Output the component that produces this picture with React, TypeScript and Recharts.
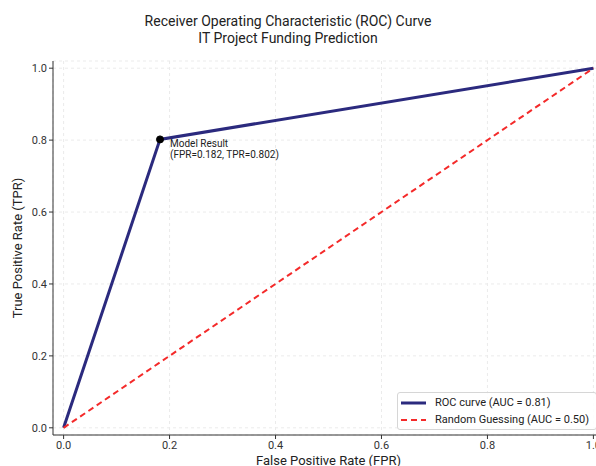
import { LineChart, Line, XAxis, YAxis, CartesianGrid, ReferenceDot } from 'recharts';

// ROC points
const rocData = [
  { fpr: 0, tpr: 0 },
  { fpr: 0.182, tpr: 0.802 },
  { fpr: 1, tpr: 1 },
];
const randomData = [
  { fpr: 0, tpr: 0 },
  { fpr: 1, tpr: 1 },
];
const modelPoint = { fpr: 0.182, tpr: 0.802 };
const ticks = [0, 0.2, 0.4, 0.6, 0.8, 1.0];
const titleLines = ['Receiver Operating Characteristic (ROC) Curve', 'IT Project Funding Prediction'];
const legendItems = [
  { label: 'ROC curve (AUC = 0.81)', color: '#2b2a7e', dash: '' },
  { label: 'Random Guessing (AUC = 0.50)', color: '#f42a2a', dash: '6 4' },
];

const FONT = 'Roboto, "Open Sans", sans-serif';

function LegendBox() {
  return (
    <div
      style={{
        position: 'absolute',
        left: 397,
        top: 392,
        boxSizing: 'border-box',
        width: 200,
        border: '1px solid #d6d6d6',
        borderRadius: 3,
        background: 'rgba(255,255,255,0.85)',
        padding: '1px 4px 1px 2px',
        fontFamily: FONT,
        fontSize: 11,
        color: '#222',
        whiteSpace: 'nowrap',
      }}
    >
      {legendItems.map((it) => (
        <div key={it.label} style={{ display: 'flex', alignItems: 'center', height: 17 }}>
          <svg width={27} height={8} style={{ marginRight: 8 }}>
            <line x1={1} y1={4} x2={26} y2={4} stroke={it.color} strokeWidth={it.dash ? 2 : 3} strokeDasharray={it.dash} />
          </svg>
          <span>{it.label}</span>
        </div>
      ))}
    </div>
  );
}

export default function App() {
  return (
    <div style={{ position: 'absolute', left: 0, top: 0, width: 596, height: 466, overflow: 'hidden', background: '#fff' }}>
      <div
        style={{
          position: 'absolute',
          left: 0,
          top: 13,
          width: 576,
          textAlign: 'center',
          fontFamily: FONT,
          fontSize: 14,
          lineHeight: '17px',
          color: '#222',
        }}
      >
        {titleLines.map((t) => (
          <div key={t}>{t}</div>
        ))}
      </div>
      <LineChart width={612} height={466} margin={{ top: 61, right: 8, left: 0, bottom: 0 }}>
        <CartesianGrid stroke="#ebebeb" strokeDasharray="3 3" />
        <XAxis
          dataKey="fpr"
          type="number"
          domain={[-0.02, 1.02]}
          ticks={ticks}
          allowDataOverflow
          height={31}
          stroke="#333"
          tickSize={4}
          tick={{ fill: '#333', fontSize: 11, fontFamily: FONT }}
          tickFormatter={(v: number) => v.toFixed(1)}
          label={({ viewBox }: any) => (
            <text x={viewBox.x + viewBox.width / 2} y={viewBox.y + 30} textAnchor="middle" fontSize={13} fontFamily={FONT} fill="#222">
              False Positive Rate (FPR)
            </text>
          )}
        />
        <XAxis xAxisId="top" orientation="top" type="number" domain={[-0.02, 1.02]} ticks={ticks} height={0} tick={false} tickLine={false} stroke="#aaa" />
        <YAxis
          type="number"
          domain={[-0.02, 1.02]}
          ticks={ticks}
          allowDataOverflow
          width={53}
          stroke="#333"
          tickSize={4}
          tick={{ fill: '#333', fontSize: 11, fontFamily: FONT }}
          tickFormatter={(v: number) => v.toFixed(1)}
          label={({ viewBox }: any) => {
            const cy = viewBox.y + viewBox.height / 2;
            return (
              <text x={17} y={cy} transform={`rotate(-90 17 ${cy})`} textAnchor="middle" dominantBaseline="central" fontSize={13} fontFamily={FONT} fill="#222">
                True Positive Rate (TPR)
              </text>
            );
          }}
        />
        <Line data={rocData} dataKey="tpr" name="ROC curve (AUC = 0.81)" stroke="#2b2a7e" strokeWidth={3} dot={false} isAnimationActive={false} />
        <Line
          data={randomData}
          dataKey="tpr"
          name="Random Guessing (AUC = 0.50)"
          stroke="#f42a2a"
          strokeWidth={2}
          strokeDasharray="6 4"
          dot={false}
          isAnimationActive={false}
        />
        <ReferenceDot
          x={modelPoint.fpr}
          y={modelPoint.tpr}
          r={3.5}
          fill="#000"
          stroke="#000"
          label={({ viewBox }: any) => {
            const cx = viewBox.x + viewBox.width / 2;
            const cy = viewBox.y + viewBox.height / 2;
            return (
              <text fontSize={10} fontFamily={FONT} fill="#222">
                <tspan x={cx + 10} y={cy + 8}>Model Result</tspan>
                <tspan x={cx + 10} y={cy + 19}>
                  (FPR={modelPoint.fpr.toFixed(3)}, TPR={modelPoint.tpr.toFixed(3)})
                </tspan>
              </text>
            );
          }}
        />
      </LineChart>
      <LegendBox />
    </div>
  );
}
